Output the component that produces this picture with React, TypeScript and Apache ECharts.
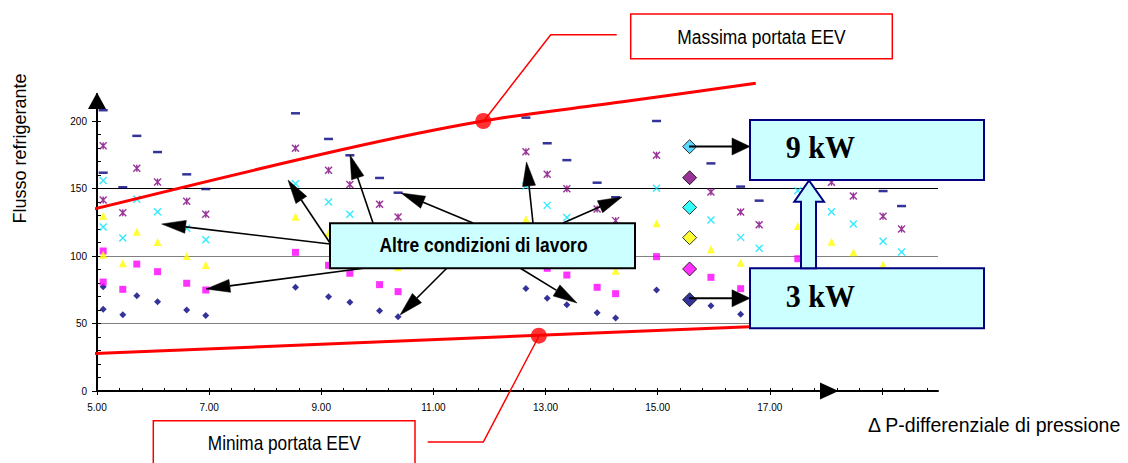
import React, { useEffect, useRef } from 'react';
import * as echarts from 'echarts';

// x positions (Δ P) of the measured columns
const columnX = [5.11, 5.11, 5.46, 5.71, 6.08, 6.6, 6.94, 8.54, 9.13, 9.51, 10.04, 10.37, 12.65, 13.03, 13.38, 13.92, 14.25, 14.98, 15.95, 16.48, 16.81, 17.5, 18.1, 18.49, 19.02, 19.35];
// flow values per marker series (null = hidden behind a box)
const dashValues = [208, 161.7, 150.9, 189, 177, 160.5, 149.6, 205.7, 186.7, 174.6, 157.8, 146.9, 202.5, 183.5, 171, 154.3, 143.5, 200, 168.6, 151.4, 141, null, null, null, 148.1, 137];
const starValues = [181.7, 141.5, 132, 165, 154.8, 140.5, 131, 179.8, 163.5, 153, 138.3, 128.9, 177.3, 160.5, 149.9, 134.8, 126.2, 174.6, 147.4, 132.6, 123.2, null, 154.6, 144.4, 129.4, 120];
const crossValues = [156, 121.5, 113.3, 142, 132.8, 120.5, 112, 153.6, 140, 130.9, null, null, 151.9, 137.5, 128.6, null, null, 150.1, 126.7, 113.8, 105.7, 148.4, 132.8, 123.7, 110.9, 103];
const triangleValues = [129.9, 101, 94.6, 118, 110.4, 100, 93.3, 129.1, 116.8, null, null, 91.6, 127.2, null, null, null, 89.1, 124.2, 105, 95, null, 122.2, 110.6, 102.7, 93.6, null];
const squareValues = [103.7, 80.7, 75.3, 94, 88.4, 79.8, 74.8, 102.7, 93.1, 87.2, 78.8, 73.6, null, 90.9, 85.9, 76.8, 72.1, 99.5, 84.2, 75.8, null, 98, null, null, null, null];
const diamondValues = [77.3, 60.5, 56.5, 70.6, 66.2, 60, 56, 76.8, 69.9, 65.7, 59.5, 55, 76, 68.7, 63.9, 58, 54.1, 74.8, 63.2, 56.8, null, null, null, null, null, null];

// highlighted column (9 kW .. 3 kW)
const selectedX = 15.57;
const selectedValues = [181, 158, 136, 113.6, 90.4, 67.6];
const selectedColors = ['#33ccff', '#800080', '#00ffff', '#ffff00', '#ff00ff', '#000080'];

// EEV limits
const maxLineX = [4.84, 9.34, 11.89, 14.34, 16.75];
const maxLineY = [133.7, 178.5, 200, 214, 228];
const minLineX = [4.84, 16.75];
const minLineY = [27.6, 47.8];
const limitPointX = [11.89, 12.88];
const limitPointY = [200, 41];

// axis ticks
const xLabelValues = [5, 7, 9, 11, 13, 15, 17];
const xMajorTicks = [5, 7, 9, 11, 13, 15, 17, 19];
const yLabelValues = [0, 50, 100, 150, 200];

const SANS = "'Liberation Sans', Arial, sans-serif";
const SERIF = "'Liberation Serif', 'Times New Roman', serif";

function pairs(vals: (number | null)[]) {
  const out: number[][] = [];
  vals.forEach((v, i) => {
    if (v !== null) out.push([columnX[i], v]);
  });
  return out;
}
function zipXY(xs: number[], ys: number[]) {
  return xs.map((x, i) => [x, ys[i]]);
}

function arrow(x1: number, y1: number, x2: number, y2: number, len: number, half: number, color: string, width: number) {
  const dx = x2 - x1, dy = y2 - y1;
  const d = Math.hypot(dx, dy);
  const ux = dx / d, uy = dy / d;
  const bx = x2 - ux * len, by = y2 - uy * len;
  return [
    { type: 'line', z: 100, shape: { x1, y1, x2: bx, y2: by }, style: { stroke: color, lineWidth: width } },
    {
      type: 'polygon', z: 100,
      shape: { points: [[x2, y2], [bx - uy * half, by + ux * half], [bx + uy * half, by - ux * half]] },
      style: { fill: color, stroke: color, lineWidth: 0.5 },
    },
  ];
}

function text(t: string, x: number, y: number, font: string, align: string, scaleX = 1, rotation = 0) {
  return {
    type: 'text', z: 110, x, y, scaleX, rotation,
    style: {
      text: t, font, fill: '#000',
      textAlign: align, align, textVerticalAlign: 'middle', verticalAlign: 'middle',
    },
  };
}

export default function App() {
  const ref = useRef<HTMLDivElement>(null);
  useEffect(() => {
    document.body.style.margin = '0';
    document.body.style.overflow = 'hidden';
    const chart = echarts.init(ref.current!, undefined, { renderer: 'svg' });

    const minorX: number[] = [];
    for (let i = 0; i <= 37; i++) minorX.push(+(5 + i * 0.4).toFixed(2));
    const minorY: number[] = [];
    for (let v = 0; v <= 210; v += 10) minorY.push(v);

    const gridBox = { left: 97, right: 190, top: 94, bottom: 72 };

    const altreArrows: number[][] = [
      [330, 244, 161.7, 224],
      [373, 267, 206, 289],
      [330, 243, 288, 180],
      [373, 223, 350, 155],
      [473, 223, 401, 193],
      [447, 268, 400, 315],
      [533, 223, 526.5, 162],
      [520, 268, 577, 303],
      [563, 223, 622, 197],
    ];

    const graphics: any[] = [];
    // axis arrows
    graphics.push({ type: 'polygon', z: 100, shape: { points: [[88, 109], [97, 92.5], [106, 109]] }, style: { fill: '#000' } });
    graphics.push({ type: 'polygon', z: 100, shape: { points: [[820, 382.5], [838.5, 391], [820, 399.5]] }, style: { fill: '#000' } });
    // arrows from "Altre condizioni di lavoro"
    altreArrows.forEach((a) => graphics.push(...arrow(a[0], a[1], a[2], a[3], 24, 6.5, '#000', 1.6)));
    graphics.push({
      type: 'rect', z: 105, shape: { x: 330, y: 223.3, width: 305, height: 45 },
      style: { fill: '#ccffff', stroke: '#000', lineWidth: 2 },
    });
    graphics.push(text('Altre condizioni di lavoro', 483.5, 244.5, `bold 21px ${SANS}`, 'center', 0.83));

    // arrows to 9 kW / 3 kW
    graphics.push(...arrow(689, 146.5, 750, 146.5, 18, 8.5, '#000', 2));
    graphics.push(...arrow(689, 298.3, 750, 298.3, 18, 8.5, '#000', 2));
    // kW boxes
    graphics.push({
      type: 'rect', z: 105, shape: { x: 750, y: 120, width: 234, height: 60 },
      style: { fill: '#ccffff', stroke: '#000080', lineWidth: 2 },
    });
    graphics.push({
      type: 'rect', z: 105, shape: { x: 750, y: 268.3, width: 234, height: 60 },
      style: { fill: '#ccffff', stroke: '#000080', lineWidth: 2 },
    });
    graphics.push({
      type: 'polygon', z: 106,
      shape: { points: [[801, 268.3], [801, 201.7], [794.3, 201.7], [809, 180.5], [824, 201.7], [816, 201.7], [816, 268.3]] },
      style: { fill: '#ccffff', stroke: '#000080', lineWidth: 2 },
    });
    graphics.push(text('9 kW', 785.7, 148, `bold 31px ${SERIF}`, 'left', 0.97));
    graphics.push(text('3 kW', 785.7, 296.5, `bold 31px ${SERIF}`, 'left', 0.97));

    // callouts
    graphics.push({
      type: 'polyline', z: 100, shape: { points: [[616.7, 34.7], [550.7, 34.7], [484, 120.7]] },
      style: { stroke: '#ff0000', lineWidth: 1.5, fill: 'none' },
    });
    graphics.push({
      type: 'rect', z: 105, shape: { x: 630.7, y: 14, width: 261.6, height: 44.7 },
      style: { fill: '#fff', stroke: '#ff0000', lineWidth: 1.5 },
    });
    graphics.push(text('Massima portata EEV', 761.5, 37, `21px ${SANS}`, 'center', 0.83));
    graphics.push({
      type: 'polyline', z: 100, shape: { points: [[427.7, 442], [483.3, 442], [539, 336]] },
      style: { stroke: '#ff0000', lineWidth: 1.5, fill: 'none' },
    });
    graphics.push({
      type: 'rect', z: 105, shape: { x: 153.3, y: 420.7, width: 261.7, height: 60 },
      style: { fill: '#fff', stroke: '#ff0000', lineWidth: 1.5 },
    });
    graphics.push(text('Minima portata EEV', 284.3, 443, `21px ${SANS}`, 'center', 0.82));

    // axis titles
    graphics.push(text('Flusso refrigerante', 20, 148.5, `18px ${SANS}`, 'center', 1, Math.PI / 2));
    graphics.push(text('Δ P-differenziale di pressione', 868, 425, `19.5px ${SANS}`, 'left'));

    const scatterBase = { type: 'scatter', xAxisIndex: 0, yAxisIndex: 0, z: 2, silent: true };

    chart.setOption({
      animation: false,
      backgroundColor: '#fff',
      grid: [gridBox, gridBox],
      xAxis: [
        {
          type: 'value', gridIndex: 0, min: 5, max: 20, interval: 1,
          axisLine: { show: true, onZero: false, lineStyle: { color: '#000', width: 2 } },
          axisTick: { show: true, customValues: xMajorTicks, length: 4, lineStyle: { color: '#000', width: 1 } },
          axisLabel: {
            customValues: xLabelValues, formatter: (v: number) => v.toFixed(2),
            fontSize: 10, fontFamily: SANS, color: '#000', margin: 11,
          },
          splitLine: { show: false },
        },
        {
          type: 'value', gridIndex: 1, min: 5, max: 20, interval: 1,
          axisLine: { show: false },
          axisTick: { show: true, inside: true, customValues: minorX, length: 3, lineStyle: { color: '#000', width: 1 } },
          axisLabel: { show: false },
          splitLine: { show: false },
        },
      ],
      yAxis: [
        {
          type: 'value', gridIndex: 0, min: 0, max: 220, interval: 50,
          axisLine: { show: true, onZero: false, lineStyle: { color: '#000', width: 2 } },
          axisTick: { show: true, customValues: yLabelValues, length: 5, lineStyle: { color: '#000', width: 1 } },
          axisLabel: {
            customValues: yLabelValues, fontSize: 10, fontFamily: SANS, color: '#000', margin: 10,
          },
          splitLine: {
            show: true, showMinLine: false, showMaxLine: false,
            lineStyle: { color: ['#808080', '#808080', '#000', '#000'], width: 1 },
          },
        },
        {
          type: 'value', gridIndex: 1, min: 0, max: 220, interval: 50,
          axisLine: { show: false },
          axisTick: { show: true, inside: true, customValues: minorY, length: 4, lineStyle: { color: '#000', width: 1 } },
          axisLabel: { show: false },
          splitLine: { show: false },
        },
      ],
      graphic: { elements: graphics },
      series: [
        {
          ...scatterBase, name: 'diamond', data: pairs(diamondValues),
          symbol: 'diamond', symbolSize: 7, itemStyle: { color: '#000080' },
        },
        {
          ...scatterBase, name: 'square', data: pairs(squareValues),
          symbol: 'rect', symbolSize: 7, itemStyle: { color: '#ff00ff' },
        },
        {
          ...scatterBase, name: 'triangle', data: pairs(triangleValues),
          symbol: 'triangle', symbolSize: 8, itemStyle: { color: '#ffff00' },
        },
        {
          ...scatterBase, name: 'cross', data: pairs(crossValues),
          symbol: 'path://M0,0L10,10M10,0L0,10', symbolSize: 7,
          itemStyle: { color: 'rgba(0,0,0,0)', borderColor: '#00e5ff', borderWidth: 1.4 },
        },
        {
          ...scatterBase, name: 'star', data: pairs(starValues),
          symbol: 'path://M0,0L10,10M10,0L0,10M5,0L5,10', symbolSize: 7,
          itemStyle: { color: 'rgba(0,0,0,0)', borderColor: '#800080', borderWidth: 1.4 },
        },
        {
          ...scatterBase, name: 'dash', data: pairs(dashValues),
          symbol: 'rect', symbolSize: [9, 2.5], itemStyle: { color: '#000080' },
        },
        {
          ...scatterBase, name: 'selected', z: 3,
          data: selectedValues.map((v, i) => ({ value: [selectedX, v], itemStyle: { color: selectedColors[i] } })),
          symbol: 'diamond', symbolSize: 14, itemStyle: { borderColor: '#000', borderWidth: 1 },
        },
        {
          type: 'line', name: 'max', data: zipXY(maxLineX, maxLineY), smooth: 0.35, clip: false,
          symbol: 'none', lineStyle: { color: '#ff0000', width: 3 }, z: 5, silent: true,
        },
        {
          type: 'line', name: 'min', data: zipXY(minLineX, minLineY), clip: false,
          symbol: 'none', lineStyle: { color: '#ff0000', width: 3 }, z: 5, silent: true,
        },
        {
          ...scatterBase, name: 'limits', z: 6, data: zipXY(limitPointX, limitPointY),
          symbol: 'circle', symbolSize: 16, itemStyle: { color: '#ff0000' },
        },
      ],
    });
    return () => chart.dispose();
  }, []);
  return <div ref={ref} style={{ width: 1128, height: 463 }} />;
}
